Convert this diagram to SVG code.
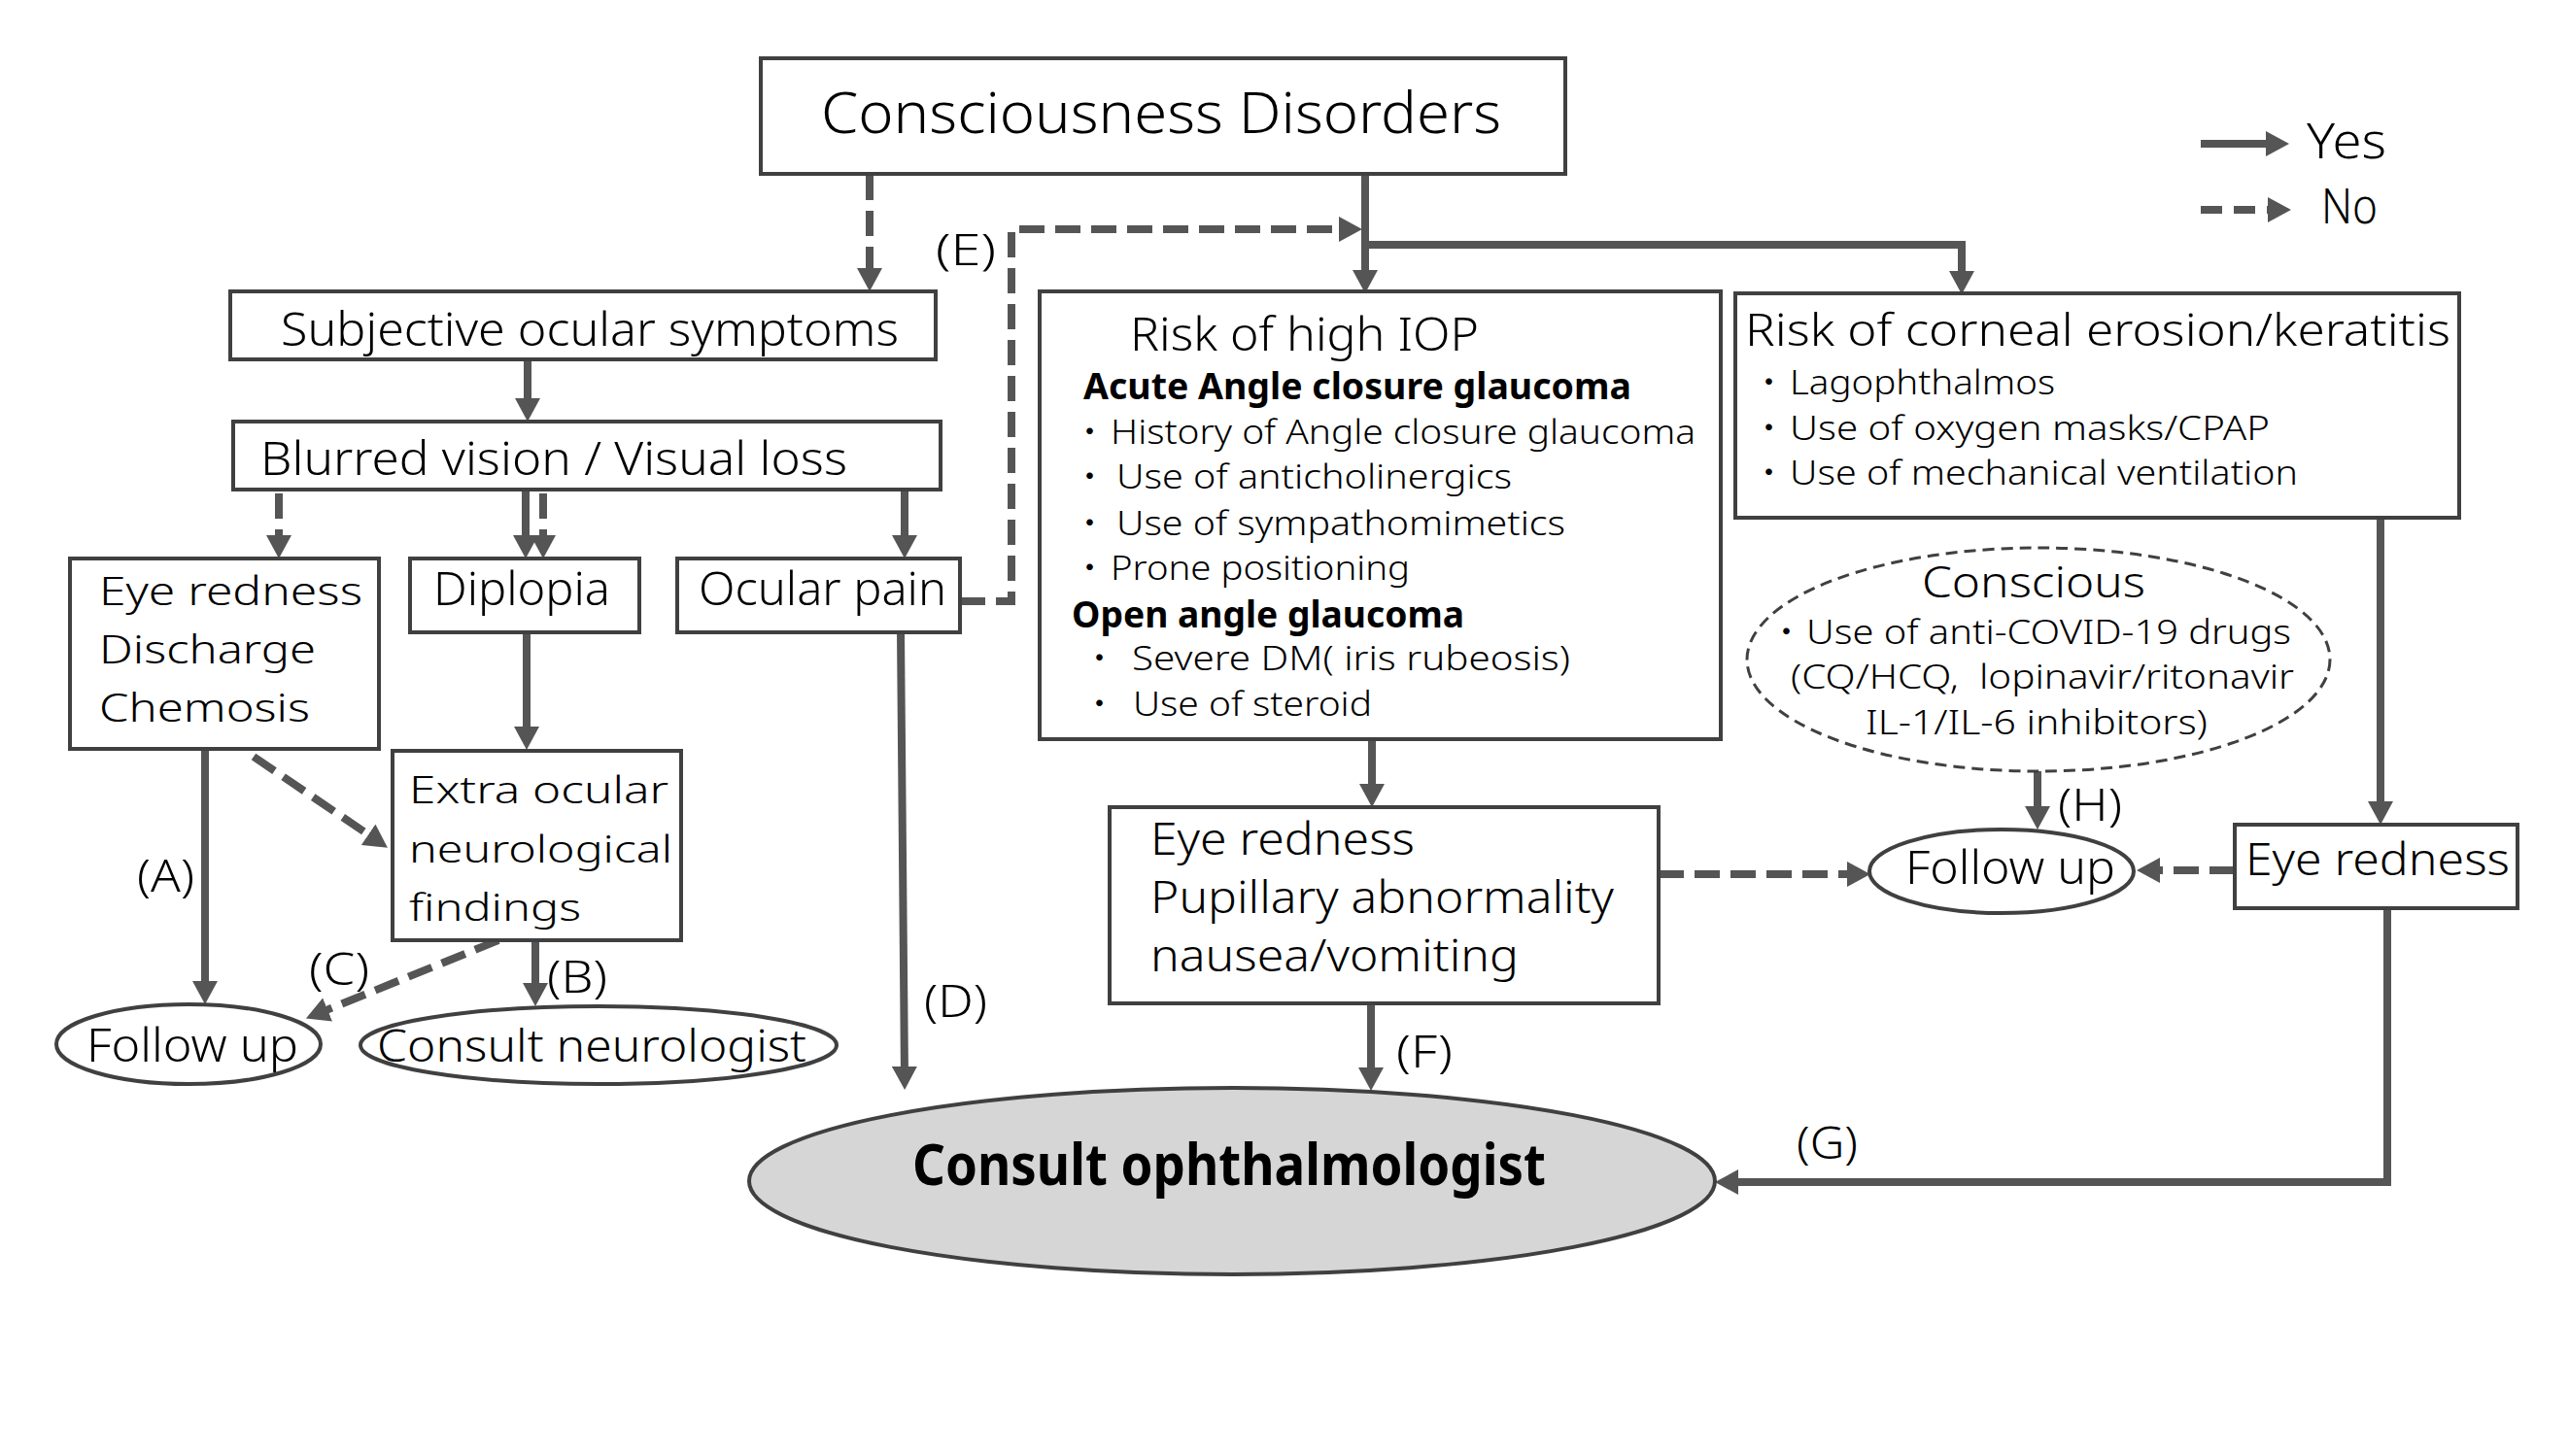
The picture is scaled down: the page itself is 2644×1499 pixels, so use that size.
<svg xmlns="http://www.w3.org/2000/svg" width="2644" height="1499" viewBox="0 0 2644 1499">
<style>
.box{fill:#fff;stroke:#404040;stroke-width:4}
.ell{fill:#fff;stroke:#404040;stroke-width:4}
.ln{fill:none;stroke:#555;stroke-width:8}
.dl{fill:none;stroke:#555;stroke-width:8;stroke-dasharray:26 11}
text{font-family:"Noto Sans","Noto Sans CJK JP",sans-serif;fill:#000;font-weight:300}
.b{font-weight:bold}
</style>
<defs>
<marker id="ah" markerUnits="userSpaceOnUse" viewBox="0 0 24 26" markerWidth="24" markerHeight="26" refX="12" refY="13" orient="auto">
<path d="M0,0 L24,13 L0,26 z" fill="#555"/>
</marker>
</defs>
<rect width="2644" height="1499" fill="#fff"/>

<g id="connectors">
<path class="dl" d="M895,180 V288" marker-end="url(#ah)"/>
<path class="ln" d="M1405,179 V290" marker-end="url(#ah)"/>
<path class="ln" d="M1405,252 H2019 V291" marker-end="url(#ah)"/>
<path class="dl" d="M988,619 H1041 V236 H1390" marker-end="url(#ah)"/>
<path class="ln" d="M543,370 V422" marker-end="url(#ah)"/>
<path class="dl" d="M287,508 V563" marker-end="url(#ah)"/>
<path class="ln" d="M541,504 V563" marker-end="url(#ah)"/>
<path class="dl" d="M559,508 V563" marker-end="url(#ah)"/>
<path class="ln" d="M931,504 V563" marker-end="url(#ah)"/>
<path class="ln" d="M542,651 V760" marker-end="url(#ah)"/>
<path class="ln" d="M211,771 V1022" marker-end="url(#ah)"/>
<path class="dl" d="M261,779 L389,866" marker-end="url(#ah)"/>
<path class="ln" d="M551,968 V1024" marker-end="url(#ah)"/>
<path class="dl" d="M513,968 L326,1044" marker-end="url(#ah)"/>
<path class="ln" d="M927,651 L931,1110" marker-end="url(#ah)"/>
<path class="ln" d="M1412,761 V819" marker-end="url(#ah)"/>
<path class="ln" d="M1411,1033 V1111" marker-end="url(#ah)"/>
<path class="dl" d="M1707,900 H1913" marker-end="url(#ah)"/>
<path class="dl" d="M2300,896 H2211" marker-end="url(#ah)"/>
<path class="ln" d="M2450,533 V837" marker-end="url(#ah)"/>
<path class="ln" d="M2097,794 V842" marker-end="url(#ah)"/>
<path class="ln" d="M2457,935 V1217 H1777" marker-end="url(#ah)"/>
<text x="141" y="918" font-size="46" textLength="59" lengthAdjust="spacingAndGlyphs">(A)</text>
<text x="563" y="1022" font-size="46" textLength="62" lengthAdjust="spacingAndGlyphs">(B)</text>
<text x="318" y="1014" font-size="46" textLength="62" lengthAdjust="spacingAndGlyphs">(C)</text>
<text x="951" y="1047" font-size="46" textLength="65" lengthAdjust="spacingAndGlyphs">(D)</text>
<text x="963" y="273" font-size="44" textLength="62" lengthAdjust="spacingAndGlyphs">(E)</text>
<text x="1437" y="1099" font-size="46" textLength="58" lengthAdjust="spacingAndGlyphs">(F)</text>
<text x="1849" y="1193" font-size="46" textLength="63" lengthAdjust="spacingAndGlyphs">(G)</text>
<text x="2118" y="845" font-size="46" textLength="66" lengthAdjust="spacingAndGlyphs">(H)</text>
</g>

<g id="legend">
<path class="ln" d="M2265,148 H2344" marker-end="url(#ah)"/>
<path class="dl" d="M2265,216 H2346" marker-end="url(#ah)" style="stroke-dasharray:22 12"/>
<text x="2374" y="163" font-size="50" textLength="82" lengthAdjust="spacingAndGlyphs">Yes</text>
<text x="2389" y="230" font-size="50" textLength="58" lengthAdjust="spacingAndGlyphs">No</text>
</g>

<g id="consciousness-disorders">
<rect class="box" x="783" y="60" width="828" height="119"/>
<text x="845" y="137" font-size="59" textLength="700" lengthAdjust="spacingAndGlyphs">Consciousness Disorders</text>
</g>

<g id="subjective">
<rect class="box" x="237" y="300" width="726" height="70"/>
<text x="289" y="356" font-size="48" textLength="636" lengthAdjust="spacingAndGlyphs">Subjective ocular symptoms</text>
</g>

<g id="blurred">
<rect class="box" x="240" y="434" width="728" height="70"/>
<text x="268" y="489" font-size="48" textLength="604" lengthAdjust="spacingAndGlyphs">Blurred vision / Visual loss</text>
</g>

<g id="eye-redness-left">
<rect class="box" x="72" y="575" width="318" height="196"/>
<text x="102" y="623" font-size="40" textLength="271" lengthAdjust="spacingAndGlyphs">Eye redness</text>
<text x="102" y="683" font-size="40" textLength="223" lengthAdjust="spacingAndGlyphs">Discharge</text>
<text x="102" y="743" font-size="40" textLength="217" lengthAdjust="spacingAndGlyphs">Chemosis</text>
</g>

<g id="diplopia">
<rect class="box" x="422" y="575" width="236" height="76"/>
<text x="446" y="623" font-size="48" textLength="182" lengthAdjust="spacingAndGlyphs">Diplopia</text>
</g>

<g id="ocular-pain">
<rect class="box" x="697" y="575" width="291" height="76"/>
<text x="719" y="623" font-size="48" textLength="255" lengthAdjust="spacingAndGlyphs">Ocular pain</text>
</g>

<g id="extra-ocular">
<rect class="box" x="404" y="773" width="297" height="195"/>
<text x="421" y="827" font-size="38" textLength="267" lengthAdjust="spacingAndGlyphs">Extra ocular</text>
<text x="421" y="888" font-size="38" textLength="271" lengthAdjust="spacingAndGlyphs">neurological</text>
<text x="421" y="948" font-size="38" textLength="177" lengthAdjust="spacingAndGlyphs">findings</text>
</g>

<g id="follow-up-left">
<ellipse class="ell" cx="194" cy="1075" rx="136" ry="41"/>
<text x="89" y="1093" font-size="48" textLength="218" lengthAdjust="spacingAndGlyphs">Follow up</text>
</g>

<g id="consult-neurologist">
<ellipse class="ell" cx="616" cy="1076" rx="245" ry="40"/>
<text x="388" y="1093" font-size="46" textLength="442" lengthAdjust="spacingAndGlyphs">Consult neurologist</text>
</g>

<g id="risk-high-iop">
<rect class="box" x="1070" y="300" width="701" height="461"/>
<text x="1163" y="361" font-size="48" textLength="359" lengthAdjust="spacingAndGlyphs">Risk of high IOP</text>
<text class="b" x="1115" y="411" font-size="37" textLength="564" lengthAdjust="spacingAndGlyphs">Acute Angle closure glaucoma</text>
<text y="457" font-size="35"><tspan x="1104">・</tspan><tspan x="1143" textLength="602" lengthAdjust="spacingAndGlyphs">History of Angle closure glaucoma</tspan></text>
<text y="503" font-size="35"><tspan x="1104">・</tspan><tspan x="1149" textLength="407" lengthAdjust="spacingAndGlyphs">Use of anticholinergics</tspan></text>
<text y="551" font-size="35"><tspan x="1104">・</tspan><tspan x="1149" textLength="462" lengthAdjust="spacingAndGlyphs">Use of sympathomimetics</tspan></text>
<text y="597" font-size="35"><tspan x="1104">・</tspan><tspan x="1143" textLength="308" lengthAdjust="spacingAndGlyphs">Prone positioning</tspan></text>
<text class="b" x="1103" y="646" font-size="37" textLength="404" lengthAdjust="spacingAndGlyphs">Open angle glaucoma</text>
<text y="690" font-size="35"><tspan x="1114">・</tspan><tspan x="1165" textLength="451" lengthAdjust="spacingAndGlyphs">Severe DM( iris rubeosis)</tspan></text>
<text y="737" font-size="35"><tspan x="1114">・</tspan><tspan x="1166" textLength="246" lengthAdjust="spacingAndGlyphs">Use of steroid</tspan></text>
</g>

<g id="risk-corneal">
<rect class="box" x="1786" y="302" width="745" height="231"/>
<text x="1796" y="356" font-size="46" textLength="726" lengthAdjust="spacingAndGlyphs">Risk of corneal erosion/keratitis</text>
<text y="406" font-size="35"><tspan x="1803">・</tspan><tspan x="1842" textLength="273" lengthAdjust="spacingAndGlyphs">Lagophthalmos</tspan></text>
<text y="453" font-size="35"><tspan x="1803">・</tspan><tspan x="1842" textLength="494" lengthAdjust="spacingAndGlyphs">Use of oxygen masks/CPAP</tspan></text>
<text y="499" font-size="35"><tspan x="1803">・</tspan><tspan x="1842" textLength="523" lengthAdjust="spacingAndGlyphs">Use of mechanical ventilation</tspan></text>
</g>

<g id="conscious">
<ellipse cx="2098" cy="679" rx="300" ry="115" fill="#fff" stroke="#404040" stroke-width="3" stroke-dasharray="12 7"/>
<text x="1978" y="615" font-size="44" textLength="230" lengthAdjust="spacingAndGlyphs">Conscious</text>
<text y="663" font-size="35"><tspan x="1821">・</tspan><tspan x="1859" textLength="499" lengthAdjust="spacingAndGlyphs">Use of anti-COVID-19 drugs</tspan></text>
<text x="1843" y="709" font-size="35" textLength="518" lengthAdjust="spacingAndGlyphs">(CQ/HCQ,&#160; lopinavir/ritonavir</text>
<text x="1920" y="756" font-size="35" textLength="352" lengthAdjust="spacingAndGlyphs">IL-1/IL-6 inhibitors)</text>
</g>

<g id="eye-redness-pupillary">
<rect class="box" x="1142" y="831" width="565" height="202"/>
<text x="1184" y="880" font-size="46" textLength="272" lengthAdjust="spacingAndGlyphs">Eye redness</text>
<text x="1184" y="940" font-size="46" textLength="477" lengthAdjust="spacingAndGlyphs">Pupillary abnormality</text>
<text x="1184" y="1000" font-size="46" textLength="379" lengthAdjust="spacingAndGlyphs">nausea/vomiting</text>
</g>

<g id="follow-up-right">
<ellipse class="ell" cx="2060" cy="897" rx="136" ry="43"/>
<text x="1961" y="910" font-size="48" textLength="216" lengthAdjust="spacingAndGlyphs">Follow up</text>
</g>

<g id="eye-redness-right">
<rect class="box" x="2300" y="849" width="291" height="86"/>
<text x="2311" y="901" font-size="46" textLength="272" lengthAdjust="spacingAndGlyphs">Eye redness</text>
</g>

<g id="consult-ophthalmologist">
<ellipse cx="1268" cy="1216" rx="497" ry="96" fill="#d6d6d6" stroke="#404040" stroke-width="4"/>
<text class="b" x="939" y="1220" font-size="59" textLength="652" lengthAdjust="spacingAndGlyphs">Consult ophthalmologist</text>
</g>
</svg>
